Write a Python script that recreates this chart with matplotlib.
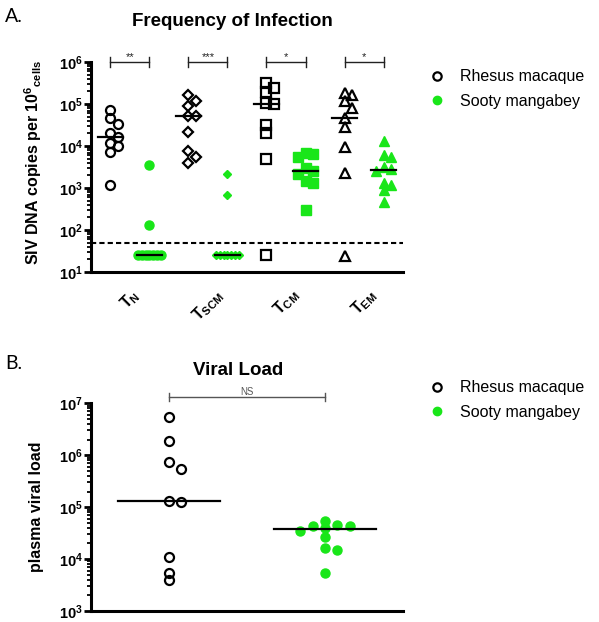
import numpy as np
import matplotlib
matplotlib.use("Agg")
import matplotlib.pyplot as plt
from matplotlib.lines import Line2D

plt.rcParams['font.family'] = ['Liberation Sans', 'DejaVu Sans']
plt.rcParams['mathtext.fontset'] = 'custom'
plt.rcParams['mathtext.rm'] = 'Liberation Sans:bold'
plt.rcParams['mathtext.it'] = 'Liberation Sans:bold'
plt.rcParams['mathtext.bf'] = 'Liberation Sans:bold'

# --- data ---
subsets = ['N', 'SCM', 'CM', 'EM']
rm_tn = [7.2e4, 4.6e4, 3.3e4, 2.0e4, 1.66e4, 1.2e4, 1.0e4, 7.4e3, 1.2e3]
sm_tn = [3.6e3, 130, 25, 25, 25, 25, 25, 25, 25]
rm_tscm = [1.6e5, 1.2e5, 9.0e4, 5.2e4, 5.2e4, 2.1e4, 7.6e3, 5.6e3, 4.0e3]
sm_tscm = [2.2e3, 670, 25, 25, 25, 25, 25, 25, 25]
rm_tcm = [3.2e5, 2.4e5, 1.9e5, 1.05e5, 1.0e5, 3.1e4, 2.0e4, 4.8e3, 25]
sm_tcm = [6.7e3, 6.5e3, 5.5e3, 3.0e3, 2.5e3, 2.2e3, 1.5e3, 1.3e3, 300]
rm_tem = [1.8e5, 1.6e5, 1.15e5, 8.0e4, 4.6e4, 2.8e4, 9.6e3, 2.3e3, 24]
sm_tem = [1.3e4, 6.2e3, 5.4e3, 3.2e3, 2.8e3, 2.6e3, 1.35e3, 1.2e3, 900, 470]
stars = ['**', '***', '*', '*']
detection_limit = 50

rm_vl = [5.4e6, 1.9e6, 7.3e5, 5.5e5, 1.3e5, 1.23e5, 1.1e4, 5.4e3, 3.9e3]
sm_vl = [5.5e4, 4.6e4, 4.4e4, 4.4e4, 4.0e4, 3.5e4, 2.7e4, 1.65e4, 1.47e4, 5.5e3]

GREEN = '#19e619'
markers = ['o', 'D', 's', '^']


def swarm(vals, d, dy, hw):
    """GraphPad-like horizontal spreading of overlapping points."""
    logs = np.log10(vals)
    offs = np.zeros(len(vals))
    placed = []
    for i in np.argsort(logs)[::-1]:
        x = 0.0
        for k in [0, 1, -1, 2, -2, 3, -3, 4, -4, 5, -5]:
            x = k * d
            if all(((x - px) / d) ** 2 + ((logs[i] - py) / dy) ** 2 >= 0.95
                   for px, py in placed):
                break
        placed.append((x, logs[i]))
        offs[i] = x
    m = np.abs(offs).max()
    if m > hw:
        offs *= hw / m
    return offs


def bracket(ax, x0, x1, y, h, text, color, size):
    tr = matplotlib.transforms.blended_transform_factory(ax.transData, ax.transAxes)
    ax.plot([x0, x1], [y, y], color=color, lw=1.0, transform=tr, clip_on=False)
    for xx in (x0, x1):
        ax.plot([xx, xx], [y - h, y + h], color=color, lw=1.0, transform=tr, clip_on=False)
    ax.text((x0 + x1) / 2, y + 0.002, text, color=color, fontsize=size,
            ha='center', va='bottom', transform=tr)


def style_axis(ax):
    for s in ['top', 'right']:
        ax.spines[s].set_visible(False)
    for s in ['left', 'bottom']:
        ax.spines[s].set_linewidth(2.2)
    ax.tick_params(axis='y', which='major', length=5, width=2, labelsize=10.5, pad=1)
    ax.tick_params(axis='y', which='minor', length=3, width=1.3)
    ax.tick_params(axis='x', length=0)
    ax.yaxis.set_major_formatter(matplotlib.ticker.FuncFormatter(
        lambda v, p: r'$\mathrm{10^{%d}}$' % round(np.log10(v))))


def legend(ax, y):
    ax.legend(handles=[Line2D([], [], ls='', marker='o', ms=6, mfc='none', mec='black', mew=1.6),
                       Line2D([], [], ls='', marker='o', ms=6, mfc=GREEN, mec=GREEN)],
              labels=['Rhesus macaque', 'Sooty mangabey'], loc='upper left',
              bbox_to_anchor=(0.69, y), bbox_transform=fig.transFigure,
              frameon=False, fontsize=11.5, handletextpad=0.8, labelspacing=0.62,
              handlelength=1.2)


fig = plt.figure(figsize=(5.99, 6.22), dpi=100)

# ---------------- panel A ----------------
ax = fig.add_axes([0.1519, 0.5627, 0.5209, 0.3376])
groups = [(rm_tn, sm_tn), (rm_tscm, sm_tscm), (rm_tcm, sm_tcm), (rm_tem, sm_tem)]
off = 0.25
for i, (rm, sm) in enumerate(groups):
    for j, vals in enumerate((rm, sm)):
        x0 = i - off if j == 0 else i + off
        jit = swarm(vals, 0.1, 0.18, 0.15)
        if j == 0:
            ax.plot(x0 + jit, vals, ls='', marker=markers[i], ms=6.5 if i != 1 else 5.5,
                    mfc='none', mec='black', mew=1.6, clip_on=False, zorder=3)
        else:
            ax.plot(x0 + jit, vals, ls='', marker=markers[i], ms=6.5 if i != 1 else 4.5,
                    mfc=GREEN, mec=GREEN, mew=1, clip_on=False, zorder=3)
        med = np.median(vals)
        ax.plot([x0 - 0.16, x0 + 0.16], [med, med], color='black', lw=1.6, zorder=4)
    bracket(ax, i - off, i + off, 1.0, 0.025, stars[i], '#222222', 8)

ax.axhline(detection_limit, color='black', ls=(0, (2.5, 1.5)), lw=1.5)
ax.set_yscale('log')
ax.set_ylim(10, 1e6)
ax.set_xlim(-0.5, 3.5)
ax.set_xticks(range(4))
ax.set_xticklabels([r'$\mathrm{T_{%s}}$' % s for s in subsets], rotation=45,
                   ha='center', fontsize=11.5)
ax.tick_params(axis='x', pad=10)
style_axis(ax)
ax.set_ylabel(r'SIV DNA copies per $\mathrm{10^{6}{}_{cells}}$', fontsize=11.5,
              fontweight='bold')
ax.yaxis.set_label_coords(-0.15, 0.52)
legend(ax, 0.912)

fig.text(0.008, 0.973, 'A.', fontsize=14, family=['Lato', 'DejaVu Sans'], va='center')
fig.text(0.388, 0.965, 'Frequency of Infection', fontsize=13.5, fontweight='bold',
         ha='center', va='center')

# ---------------- panel B ----------------
bx = fig.add_axes([0.1519, 0.0177, 0.5209, 0.3339])
for j, vals in enumerate((rm_vl, sm_vl)):
    jit = swarm(vals, 0.08, 0.14, 0.3)
    if j == 0:
        bx.plot(j + jit, vals, ls='', marker='o', ms=6.5, mfc='none', mec='black',
                mew=1.6, clip_on=False, zorder=3)
    else:
        bx.plot(j + jit, vals, ls='', marker='o', ms=6.5, mfc=GREEN, mec=GREEN,
                clip_on=False, zorder=3)
    med = np.median(vals)
    bx.plot([j - 0.33, j + 0.33], [med, med], color='black', lw=1.6, zorder=4)
bracket(bx, 0, 1, 1.03, 0.02, 'NS', '#555555', 7)
bx.set_yscale('log')
bx.set_ylim(1e3, 1e7)
bx.set_xlim(-0.5, 1.5)
bx.set_xticks([])
style_axis(bx)
bx.set_ylabel('plasma viral load', fontsize=11.5, fontweight='bold')
bx.yaxis.set_label_coords(-0.15, 0.5)
legend(bx, 0.412)

fig.text(0.008, 0.416, 'B.', fontsize=14, family=['Lato', 'DejaVu Sans'], va='center')
fig.text(0.397, 0.405, 'Viral Load', fontsize=13.5, fontweight='bold',
         ha='center', va='center')

fig.savefig('out.png', dpi=100)
